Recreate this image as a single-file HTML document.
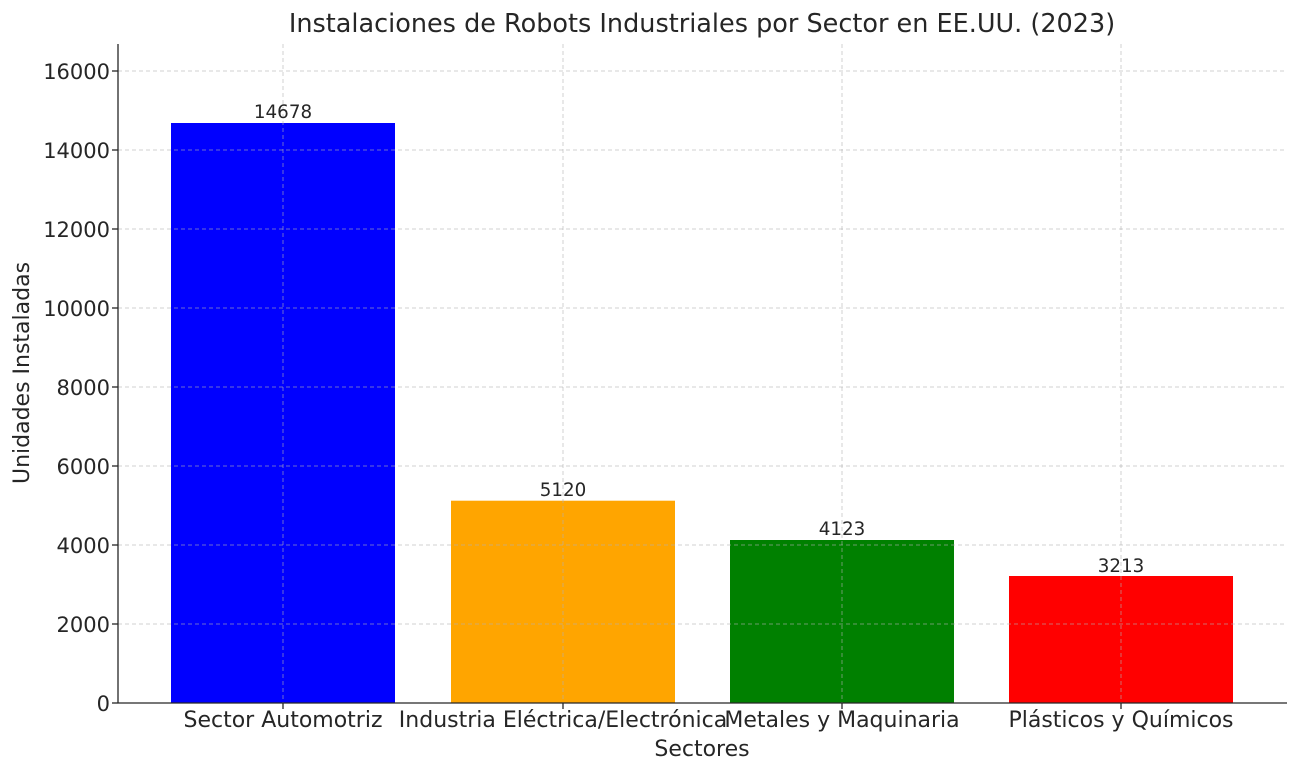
<!DOCTYPE html>
<html><head><meta charset="utf-8"><style>body{margin:0;background:#fff}svg{display:block}text{font-family:"DejaVu Sans","Liberation Sans",sans-serif;fill:#262626}</style></head><body>
<svg width="1304" height="779" viewBox="0 0 1304 779">
<text x="702" y="32" font-size="25.5" text-anchor="middle">Instalaciones de Robots Industriales por Sector en EE.UU. (2023)</text>
<rect x="171" y="123" width="224" height="580" fill="#0000ff"/>
<rect x="451" y="500.7" width="224" height="202.3" fill="#ffa500"/>
<rect x="730" y="540" width="224" height="163" fill="#008000"/>
<rect x="1009" y="576" width="224" height="127" fill="#ff0000"/>
<g stroke="#b0b0b0" stroke-opacity="0.6" stroke-dasharray="4,3" stroke-width="1">
<line x1="118" x2="1287" y1="71" y2="71"/><line x1="118" x2="1287" y1="150" y2="150"/><line x1="118" x2="1287" y1="229" y2="229"/><line x1="118" x2="1287" y1="308" y2="308"/><line x1="118" x2="1287" y1="387" y2="387"/><line x1="118" x2="1287" y1="466" y2="466"/><line x1="118" x2="1287" y1="545" y2="545"/><line x1="118" x2="1287" y1="624" y2="624"/>
<line x1="283" x2="283" y1="44" y2="703"/><line x1="563" x2="563" y1="44" y2="703"/><line x1="842" x2="842" y1="44" y2="703"/><line x1="1121" x2="1121" y1="44" y2="703"/>
</g>
<g stroke="#262626" stroke-width="1.3">
<line x1="118" x2="118" y1="44" y2="703"/><line x1="118" x2="1287" y1="703" y2="703"/>
<line x1="112" x2="118" y1="71" y2="71"/><line x1="112" x2="118" y1="150" y2="150"/><line x1="112" x2="118" y1="229" y2="229"/><line x1="112" x2="118" y1="308" y2="308"/><line x1="112" x2="118" y1="387" y2="387"/><line x1="112" x2="118" y1="466" y2="466"/><line x1="112" x2="118" y1="545" y2="545"/><line x1="112" x2="118" y1="624" y2="624"/><line x1="112" x2="118" y1="703" y2="703"/>
<line x1="283" x2="283" y1="703" y2="709"/><line x1="563" x2="563" y1="703" y2="709"/><line x1="842" x2="842" y1="703" y2="709"/><line x1="1121" x2="1121" y1="703" y2="709"/>
</g>
<g font-size="21" text-anchor="end">
<text x="110" y="79">16000</text><text x="110" y="158">14000</text><text x="110" y="237">12000</text><text x="110" y="316">10000</text><text x="110" y="395">8000</text><text x="110" y="474">6000</text><text x="110" y="553">4000</text><text x="110" y="632">2000</text><text x="110" y="711">0</text>
</g>
<g font-size="22" text-anchor="middle">
<text x="283" y="727">Sector Automotriz</text><text x="563" y="727">Industria Eléctrica/Electrónica</text><text x="842" y="727">Metales y Maquinaria</text><text x="1121" y="727">Plásticos y Químicos</text>
<text x="702" y="756">Sectores</text>
<text transform="translate(29,373) rotate(-90)">Unidades Instaladas</text>
</g>
<g font-size="18.3" text-anchor="middle" fill="#333">
<text x="283" y="118">14678</text><text x="563" y="496">5120</text><text x="842" y="535">4123</text><text x="1121" y="572">3213</text>
</g>
</svg>
</body></html>
